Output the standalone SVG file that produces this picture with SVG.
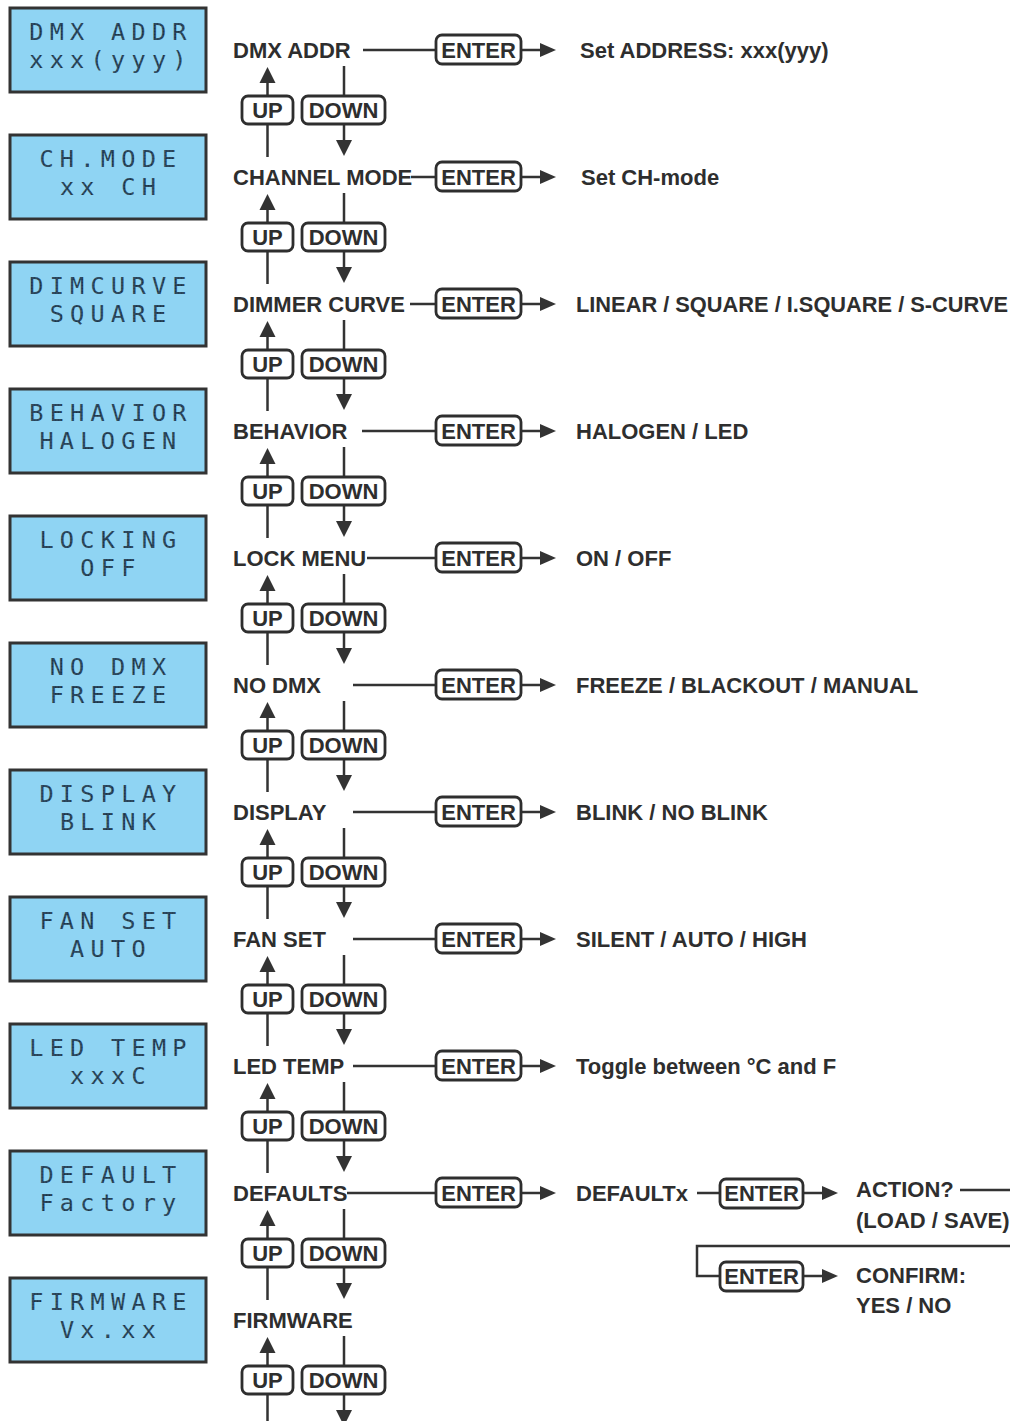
<svg xmlns="http://www.w3.org/2000/svg" width="1010" height="1421" viewBox="0 0 1010 1421">
<defs>
<pattern id="dots" width="3" height="3" patternUnits="userSpaceOnUse">
<rect width="3" height="3" fill="#3f6078"/>
<rect x="0.3" y="0.3" width="2.4" height="2.4" fill="#1c3346"/>
</pattern>
<style>
.lcd{fill:#8fd4f3;stroke:#333;stroke-width:3}
.lcdt{font-family:"DejaVu Sans Mono","Liberation Mono",monospace;font-size:23.5px;letter-spacing:6.3px;fill:url(#dots);text-anchor:middle}
.lbl{font-family:"Liberation Sans",Arial,sans-serif;font-weight:bold;font-size:22px;fill:#2e2e2e}
.btn{fill:#fff;stroke:#2e2e2e;stroke-width:2.8}
.bt{font-family:"Liberation Sans",Arial,sans-serif;font-weight:bold;font-size:22px;fill:#2e2e2e;text-anchor:middle}
.ln{fill:none;stroke:#333;stroke-width:2.5}
.ah{fill:#333}
</style>
</defs>
<rect width="1010" height="1421" fill="#fff"/>

<g id="connectors">
<g transform="translate(0,0)"><path class="ln" d="M363 50H436M521 50H541M344 66V96M344 124V142M267.5 82V96M267.5 124V157"/></g>
<g transform="translate(0,127)"><path class="ln" d="M411 50H436M521 50H541M344 66V96M344 124V142M267.5 82V96M267.5 124V157"/></g>
<g transform="translate(0,254)"><path class="ln" d="M410 50H436M521 50H541M344 66V96M344 124V142M267.5 82V96M267.5 124V157"/></g>
<g transform="translate(0,381)"><path class="ln" d="M362 50H436M521 50H541M344 66V96M344 124V142M267.5 82V96M267.5 124V157"/></g>
<g transform="translate(0,508)"><path class="ln" d="M367 50H436M521 50H541M344 66V96M344 124V142M267.5 82V96M267.5 124V157"/></g>
<g transform="translate(0,635)"><path class="ln" d="M353 50H436M521 50H541M344 66V96M344 124V142M267.5 82V96M267.5 124V157"/></g>
<g transform="translate(0,762)"><path class="ln" d="M353 50H436M521 50H541M344 66V96M344 124V142M267.5 82V96M267.5 124V157"/></g>
<g transform="translate(0,889)"><path class="ln" d="M353 50H436M521 50H541M344 66V96M344 124V142M267.5 82V96M267.5 124V157"/></g>
<g transform="translate(0,1016)"><path class="ln" d="M353 50H436M521 50H541M344 66V96M344 124V142M267.5 82V96M267.5 124V157"/></g>
<g transform="translate(0,1143)"><path class="ln" d="M347 50H436M521 50H541M344 66V96M344 124V142M267.5 82V96M267.5 124V157"/></g>
<g transform="translate(0,1270)"><path class="ln" d="M344 66V96M344 124V142M267.5 82V96M267.5 124V157"/></g>
<g id="arrowheads" class="ah">
<polygon points="540,43 556,50 540,57"/><polygon points="540,170 556,177 540,184"/><polygon points="540,297 556,304 540,311"/><polygon points="540,424 556,431 540,438"/><polygon points="540,551 556,558 540,565"/><polygon points="540,678 556,685 540,692"/><polygon points="540,805 556,812 540,819"/><polygon points="540,932 556,939 540,946"/><polygon points="540,1059 556,1066 540,1073"/><polygon points="540,1186 556,1193 540,1200"/>
<polygon points="267.5,67 259.5,83 275.5,83"/><polygon points="267.5,194 259.5,210 275.5,210"/><polygon points="267.5,321 259.5,337 275.5,337"/><polygon points="267.5,448 259.5,464 275.5,464"/><polygon points="267.5,575 259.5,591 275.5,591"/><polygon points="267.5,702 259.5,718 275.5,718"/><polygon points="267.5,829 259.5,845 275.5,845"/><polygon points="267.5,956 259.5,972 275.5,972"/><polygon points="267.5,1083 259.5,1099 275.5,1099"/><polygon points="267.5,1210 259.5,1226 275.5,1226"/><polygon points="267.5,1337 259.5,1353 275.5,1353"/>
<polygon points="344,156 336,140 352,140"/><polygon points="344,283 336,267 352,267"/><polygon points="344,410 336,394 352,394"/><polygon points="344,537 336,521 352,521"/><polygon points="344,664 336,648 352,648"/><polygon points="344,791 336,775 352,775"/><polygon points="344,918 336,902 352,902"/><polygon points="344,1045 336,1029 352,1029"/><polygon points="344,1172 336,1156 352,1156"/><polygon points="344,1299 336,1283 352,1283"/><polygon points="344,1426 336,1410 352,1410"/>
<polygon points="822,1186 838,1193 822,1200"/><polygon points="822,1269 838,1276 822,1283"/>
</g>
<path class="ln" d="M697 1193H720M803 1193H823M960 1190H1010M1010 1246H697V1276H720M803 1276H823"/>
</g>

<g id="row0">
<g id="lcd0"><rect class="lcd" x="10" y="8" width="196" height="84"/><text class="lcdt" x="111" y="40">DMX ADDR</text><text class="lcdt" x="111" y="68">xxx(yyy)</text></g>
<text class="lbl" x="233" y="58">DMX ADDR</text>
<g id="enter0"><rect class="btn" x="436" y="35" width="85" height="29" rx="6"/><text class="bt" x="478.5" y="57.5">ENTER</text></g>
<g id="up0"><rect class="btn" x="242" y="96" width="51" height="28" rx="6"/><text class="bt" x="267.5" y="118">UP</text></g>
<g id="down0"><rect class="btn" x="302" y="96" width="83" height="28" rx="6"/><text class="bt" x="343.5" y="118">DOWN</text></g>
<text class="lbl" x="580" y="58">Set ADDRESS: xxx(yyy)</text>
</g>

<g id="row1" transform="translate(0,127)">
<g id="lcd1"><rect class="lcd" x="10" y="8" width="196" height="84"/><text class="lcdt" x="111" y="40">CH.MODE</text><text class="lcdt" x="111" y="68">xx CH</text></g>
<text class="lbl" x="233" y="58">CHANNEL MODE</text>
<g id="enter1"><rect class="btn" x="436" y="35" width="85" height="29" rx="6"/><text class="bt" x="478.5" y="57.5">ENTER</text></g>
<g id="up1"><rect class="btn" x="242" y="96" width="51" height="28" rx="6"/><text class="bt" x="267.5" y="118">UP</text></g>
<g id="down1"><rect class="btn" x="302" y="96" width="83" height="28" rx="6"/><text class="bt" x="343.5" y="118">DOWN</text></g>
<text class="lbl" x="581" y="58">Set CH-mode</text>
</g>

<g id="row2" transform="translate(0,254)">
<g id="lcd2"><rect class="lcd" x="10" y="8" width="196" height="84"/><text class="lcdt" x="111" y="40">DIMCURVE</text><text class="lcdt" x="111" y="68">SQUARE</text></g>
<text class="lbl" x="233" y="58">DIMMER CURVE</text>
<g id="enter2"><rect class="btn" x="436" y="35" width="85" height="29" rx="6"/><text class="bt" x="478.5" y="57.5">ENTER</text></g>
<g id="up2"><rect class="btn" x="242" y="96" width="51" height="28" rx="6"/><text class="bt" x="267.5" y="118">UP</text></g>
<g id="down2"><rect class="btn" x="302" y="96" width="83" height="28" rx="6"/><text class="bt" x="343.5" y="118">DOWN</text></g>
<text class="lbl" x="576" y="58" textLength="432" lengthAdjust="spacingAndGlyphs">LINEAR / SQUARE / I.SQUARE / S-CURVE</text>
</g>

<g id="row3" transform="translate(0,381)">
<g id="lcd3"><rect class="lcd" x="10" y="8" width="196" height="84"/><text class="lcdt" x="111" y="40">BEHAVIOR</text><text class="lcdt" x="111" y="68">HALOGEN</text></g>
<text class="lbl" x="233" y="58">BEHAVIOR</text>
<g id="enter3"><rect class="btn" x="436" y="35" width="85" height="29" rx="6"/><text class="bt" x="478.5" y="57.5">ENTER</text></g>
<g id="up3"><rect class="btn" x="242" y="96" width="51" height="28" rx="6"/><text class="bt" x="267.5" y="118">UP</text></g>
<g id="down3"><rect class="btn" x="302" y="96" width="83" height="28" rx="6"/><text class="bt" x="343.5" y="118">DOWN</text></g>
<text class="lbl" x="576" y="58">HALOGEN / LED</text>
</g>

<g id="row4" transform="translate(0,508)">
<g id="lcd4"><rect class="lcd" x="10" y="8" width="196" height="84"/><text class="lcdt" x="111" y="40">LOCKING</text><text class="lcdt" x="111" y="68">OFF</text></g>
<text class="lbl" x="233" y="58">LOCK MENU</text>
<g id="enter4"><rect class="btn" x="436" y="35" width="85" height="29" rx="6"/><text class="bt" x="478.5" y="57.5">ENTER</text></g>
<g id="up4"><rect class="btn" x="242" y="96" width="51" height="28" rx="6"/><text class="bt" x="267.5" y="118">UP</text></g>
<g id="down4"><rect class="btn" x="302" y="96" width="83" height="28" rx="6"/><text class="bt" x="343.5" y="118">DOWN</text></g>
<text class="lbl" x="576" y="58">ON / OFF</text>
</g>

<g id="row5" transform="translate(0,635)">
<g id="lcd5"><rect class="lcd" x="10" y="8" width="196" height="84"/><text class="lcdt" x="111" y="40">NO DMX</text><text class="lcdt" x="111" y="68">FREEZE</text></g>
<text class="lbl" x="233" y="58">NO DMX</text>
<g id="enter5"><rect class="btn" x="436" y="35" width="85" height="29" rx="6"/><text class="bt" x="478.5" y="57.5">ENTER</text></g>
<g id="up5"><rect class="btn" x="242" y="96" width="51" height="28" rx="6"/><text class="bt" x="267.5" y="118">UP</text></g>
<g id="down5"><rect class="btn" x="302" y="96" width="83" height="28" rx="6"/><text class="bt" x="343.5" y="118">DOWN</text></g>
<text class="lbl" x="576" y="58">FREEZE / BLACKOUT / MANUAL</text>
</g>

<g id="row6" transform="translate(0,762)">
<g id="lcd6"><rect class="lcd" x="10" y="8" width="196" height="84"/><text class="lcdt" x="111" y="40">DISPLAY</text><text class="lcdt" x="111" y="68">BLINK</text></g>
<text class="lbl" x="233" y="58">DISPLAY</text>
<g id="enter6"><rect class="btn" x="436" y="35" width="85" height="29" rx="6"/><text class="bt" x="478.5" y="57.5">ENTER</text></g>
<g id="up6"><rect class="btn" x="242" y="96" width="51" height="28" rx="6"/><text class="bt" x="267.5" y="118">UP</text></g>
<g id="down6"><rect class="btn" x="302" y="96" width="83" height="28" rx="6"/><text class="bt" x="343.5" y="118">DOWN</text></g>
<text class="lbl" x="576" y="58">BLINK / NO BLINK</text>
</g>

<g id="row7" transform="translate(0,889)">
<g id="lcd7"><rect class="lcd" x="10" y="8" width="196" height="84"/><text class="lcdt" x="111" y="40">FAN SET</text><text class="lcdt" x="111" y="68">AUTO</text></g>
<text class="lbl" x="233" y="58">FAN SET</text>
<g id="enter7"><rect class="btn" x="436" y="35" width="85" height="29" rx="6"/><text class="bt" x="478.5" y="57.5">ENTER</text></g>
<g id="up7"><rect class="btn" x="242" y="96" width="51" height="28" rx="6"/><text class="bt" x="267.5" y="118">UP</text></g>
<g id="down7"><rect class="btn" x="302" y="96" width="83" height="28" rx="6"/><text class="bt" x="343.5" y="118">DOWN</text></g>
<text class="lbl" x="576" y="58">SILENT / AUTO / HIGH</text>
</g>

<g id="row8" transform="translate(0,1016)">
<g id="lcd8"><rect class="lcd" x="10" y="8" width="196" height="84"/><text class="lcdt" x="111" y="40">LED TEMP</text><text class="lcdt" x="111" y="68">xxxC</text></g>
<text class="lbl" x="233" y="58">LED TEMP</text>
<g id="enter8"><rect class="btn" x="436" y="35" width="85" height="29" rx="6"/><text class="bt" x="478.5" y="57.5">ENTER</text></g>
<g id="up8"><rect class="btn" x="242" y="96" width="51" height="28" rx="6"/><text class="bt" x="267.5" y="118">UP</text></g>
<g id="down8"><rect class="btn" x="302" y="96" width="83" height="28" rx="6"/><text class="bt" x="343.5" y="118">DOWN</text></g>
<text class="lbl" x="576" y="58">Toggle between °C and F</text>
</g>

<g id="row9" transform="translate(0,1143)">
<g id="lcd9"><rect class="lcd" x="10" y="8" width="196" height="84"/><text class="lcdt" x="111" y="40">DEFAULT</text><text class="lcdt" x="111" y="68">Factory</text></g>
<text class="lbl" x="233" y="58">DEFAULTS</text>
<g id="enter9"><rect class="btn" x="436" y="35" width="85" height="29" rx="6"/><text class="bt" x="478.5" y="57.5">ENTER</text></g>
<g id="up9"><rect class="btn" x="242" y="96" width="51" height="28" rx="6"/><text class="bt" x="267.5" y="118">UP</text></g>
<g id="down9"><rect class="btn" x="302" y="96" width="83" height="28" rx="6"/><text class="bt" x="343.5" y="118">DOWN</text></g>
<text class="lbl" x="576" y="58">DEFAULTx</text>
</g>

<g id="row10" transform="translate(0,1270)">
<g id="lcd10"><rect class="lcd" x="10" y="8" width="196" height="84"/><text class="lcdt" x="111" y="40">FIRMWARE</text><text class="lcdt" x="111" y="68">Vx.xx</text></g>
<text class="lbl" x="233" y="58">FIRMWARE</text>
<g id="up10"><rect class="btn" x="242" y="96" width="51" height="28" rx="6"/><text class="bt" x="267.5" y="118">UP</text></g>
<g id="down10"><rect class="btn" x="302" y="96" width="83" height="28" rx="6"/><text class="bt" x="343.5" y="118">DOWN</text></g>
</g>

<g id="defaults-sub">
<g id="enter-action"><rect class="btn" x="720" y="1179" width="83" height="29" rx="6"/><text class="bt" x="761.5" y="1201">ENTER</text></g>
<text class="lbl" x="856" y="1197">ACTION?</text>
<text class="lbl" x="856" y="1228">(LOAD / SAVE)</text>
<g id="enter-confirm"><rect class="btn" x="720" y="1262" width="83" height="29" rx="6"/><text class="bt" x="761.5" y="1284">ENTER</text></g>
<text class="lbl" x="856" y="1283">CONFIRM:</text>
<text class="lbl" x="856" y="1313">YES / NO</text>
</g>
</svg>
